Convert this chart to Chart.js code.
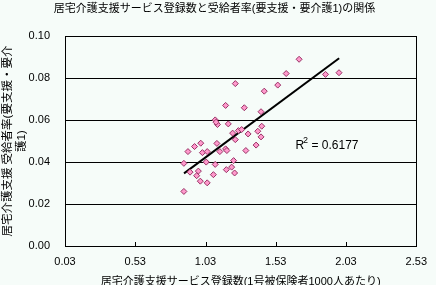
<!DOCTYPE html>
<html>
<head>
<meta charset="utf-8">
<script src="https://cdn.jsdelivr.net/npm/chart.js@4/dist/chart.umd.min.js"></script>
<style>
  html, body { margin: 0; padding: 0; background: #f6fcf9; }
  #wrap { width: 436px; height: 285px; }
</style>
</head>
<body>
<div id="wrap"><canvas id="chart" width="436" height="285"></canvas></div>
<script>
const serviceCount = [1.696, 1.604, 1.884, 1.980, 1.544, 1.448, 1.242, 1.306, 1.173, 1.425,
  1.099, 1.115, 1.192, 1.223, 1.264, 1.287, 1.333, 1.402, 1.425, 1.430,
  1.242, 1.390, 1.317, 1.111, 0.996, 0.952, 0.905, 1.008, 1.042, 1.132,
  1.173, 1.182, 0.876, 1.035, 1.099, 1.230, 1.216, 1.178, 1.237, 0.920,
  0.979, 0.967, 1.086, 0.993, 1.042, 0.876, 1.105];
const recipientRate = [0.0890, 0.0822, 0.0818, 0.0826, 0.0767, 0.0738, 0.0774, 0.0659, 0.0670, 0.0640,
  0.0601, 0.0579, 0.0582, 0.0538, 0.0550, 0.0555, 0.0534, 0.0547, 0.0520, 0.0571,
  0.0507, 0.0481, 0.0455, 0.0489, 0.0490, 0.0474, 0.0450, 0.0445, 0.0450, 0.0450,
  0.0463, 0.0455, 0.0394, 0.0400, 0.0389, 0.0407, 0.0376, 0.0364, 0.0348, 0.0352,
  0.0357, 0.0335, 0.0340, 0.0309, 0.0301, 0.0260, 0.0590];
const trendX = [0.877, 1.981];
const trendY = [0.0346, 0.0895];
const xTicks = [0.03, 0.53, 1.03, 1.53, 2.03, 2.53];
const yTicks = [0.00, 0.02, 0.04, 0.06, 0.08, 0.10];
const rSquared = "0.6177";

const FONT = "'Liberation Sans', Arial, 'Noto Sans CJK JP', sans-serif";

const frame = {
  id: "frame",
  beforeDraw(chart) {
    const c = chart.ctx;
    c.save();
    c.fillStyle = "#f6fcf9";
    c.fillRect(0, 0, chart.width, chart.height);
    c.restore();
  },
  afterDatasetsDraw(chart) {
    const { ctx: c, chartArea: a, scales } = chart;
    c.save();
    c.strokeStyle = "#000";
    c.lineWidth = 1;
    c.strokeRect(Math.round(a.left) + 0.5, Math.round(a.top) + 0.5, Math.round(a.right - a.left), Math.round(a.bottom - a.top));
    c.beginPath();
    for (const v of xTicks.slice(1, -1)) {
      const px = Math.round(scales.x.getPixelForValue(v)) + 0.5;
      c.moveTo(px, a.bottom);
      c.lineTo(px, a.bottom - 4);
    }
    c.stroke();
    // R² label
    const lx = scales.x.getPixelForValue(1.67);
    const ly = scales.y.getPixelForValue(0.0478);
    c.fillStyle = "#000";
    c.textBaseline = "middle";
    c.font = "12px " + FONT;
    c.fillText("R", lx, ly);
    const w = c.measureText("R").width;
    c.font = "9px " + FONT;
    c.fillText("2", lx + w - 1, ly - 5);
    c.font = "12px " + FONT;
    c.fillText(" = " + rSquared, lx + w + 4, ly);
    c.restore();
  }
};

new Chart(document.getElementById("chart"), {
  type: "scatter",
  data: {
    datasets: [
      {
        data: serviceCount.map((x, i) => ({ x, y: recipientRate[i] })),
        pointStyle: "rectRot",
        pointRadius: 3,
        backgroundColor: "#ff99cc",
        borderColor: "#993366",
        borderWidth: 1,
      },
      {
        type: "line",
        data: trendX.map((x, i) => ({ x, y: trendY[i] })),
        borderColor: "#000",
        borderWidth: 2,
        pointRadius: 0,
        fill: false,
      },
    ],
  },
  plugins: [frame],
  options: {
    responsive: false,
    animation: false,
    layout: { padding: { left: 0, right: 7, top: 0, bottom: 0 } },
    plugins: {
      legend: { display: false },
      tooltip: { enabled: false },
      title: {
        display: true,
        text: "居宅介護支援サービス登録数と受給者率(要支援・要介護1)の関係",
        color: "#000",
        font: { family: FONT, size: 11, weight: "normal" },
        padding: { top: 2, bottom: 21 },
      },
    },
    scales: {
      x: {
        type: "linear",
        min: 0.03,
        max: 2.53,
        afterBuildTicks: (s) => { s.ticks = xTicks.map((v) => ({ value: v })); },
        afterFit: (s) => { s.height = 39; },
        grid: { display: false, drawTicks: false },
        border: { display: false },
        ticks: { color: "#000", padding: 9, font: { family: FONT, size: 11 }, callback: (v) => v.toFixed(2) },
        title: {
          display: true,
          text: "居宅介護支援サービス登録数(1号被保険者1000人あたり)",
          color: "#000",
          font: { family: FONT, size: 11 },
          padding: { top: 0, bottom: -4 },
        },
      },
      y: {
        type: "linear",
        min: 0,
        max: 0.1,
        afterBuildTicks: (s) => { s.ticks = yTicks.map((v) => ({ value: v })); },
        afterFit: (s) => { s.width = 65; },
        grid: { color: "#000", lineWidth: 1, drawTicks: false },
        border: { display: false },
        ticks: { color: "#000", padding: 15, font: { family: FONT, size: 11 }, callback: (v) => v.toFixed(2) },
        title: {
          display: true,
          text: ["居宅介護支援 受給者率(要支援・要介", "護1)"],
          color: "#000",
          font: { family: FONT, size: 11.5 },
          padding: { top: 1, bottom: 0 },
        },
      },
    },
  },
});
</script>
</body>
</html>
